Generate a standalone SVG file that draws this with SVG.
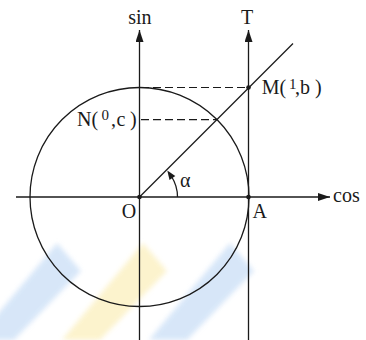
<svg xmlns="http://www.w3.org/2000/svg" width="366" height="340" viewBox="0 0 366 340">
<style>
.ln{stroke:#1a1a1a;stroke-width:1.3;fill:none}
.ds{stroke:#1a1a1a;stroke-width:1.2;stroke-dasharray:8 4;fill:none}
.t{font-family:"Liberation Serif","Times New Roman",serif;font-size:20px;fill:#1a1a1a}
.s{font-family:"Liberation Serif","Times New Roman",serif;font-size:15px;fill:#1a1a1a}
.dot{fill:#1a1a1a}
.wb{fill:#d3e4f8}
.wy{fill:#fcf2c8}
</style>
<defs>
<marker id="ah" viewBox="0 0 12 8" refX="12" refY="4" markerWidth="12" markerHeight="8" markerUnits="userSpaceOnUse" orient="auto">
<path d="M0,0 L12,4 L0,8 Z" fill="#1a1a1a"/>
</marker>
<filter id="soft" x="-20%" y="-20%" width="140%" height="140%"><feGaussianBlur stdDeviation="2.5"/></filter>
</defs>
<rect width="366" height="340" fill="#ffffff"/>
<g id="watermark" filter="url(#soft)" opacity="0.9">
<polygon class="wb" points="57,243 81,271 14,340 -24,340"/>
<polygon class="wy" points="143,243 167,271 100,340 62,340"/>
<polygon class="wb" points="230,243 254,271 187,340 149,340"/>
</g>
<g id="circle"><circle class="ln" cx="139.5" cy="197" r="109.5"/></g>
<g id="connectors">
<line class="ln" x1="16" y1="197" x2="330" y2="197" marker-end="url(#ah)"/>
<line class="ln" x1="139.5" y1="340" x2="139.5" y2="30" marker-end="url(#ah)"/>
<line class="ln" x1="248.5" y1="340" x2="248.5" y2="30" marker-end="url(#ah)"/>
<line class="ln" x1="139.5" y1="197" x2="293" y2="43.5"/>
<line class="ds" x1="141" y1="87.5" x2="248.5" y2="87.5"/>
<line class="ds" x1="141" y1="119.6" x2="217" y2="119.6"/>
<path class="ln" d="M177.5,197 A38,38 0 0 0 171.5,176.5"/>
<polygon class="dot" points="167.3,170.6 175.3,176 169.5,180"/>
</g>
<g id="O"><circle class="dot" cx="139.5" cy="197" r="2.3"/><text class="t" x="121.7" y="218">O</text></g>
<g id="A"><circle class="dot" cx="248.5" cy="197" r="2.3"/><text class="t" x="252.5" y="218">A</text></g>
<g id="M"><circle class="dot" cx="248.5" cy="87.5" r="2.3"/>
<text class="t" x="261.7" y="94">M(</text><text class="s" x="289" y="88.5">1</text><text class="t" x="295" y="94">,</text><text class="t" x="300" y="94">b</text><text class="t" x="315" y="94">)</text></g>
<g id="N"><text class="t" x="77" y="126">N(</text><text class="s" x="101.5" y="120">0</text><text class="t" x="111" y="126">,</text><text class="t" x="116.5" y="126">c</text><text class="t" x="130" y="126">)</text></g>
<g id="labels">
<text class="t" x="139.8" y="24" text-anchor="middle">sin</text>
<text class="t" x="247" y="24" text-anchor="middle">T</text>
<text class="t" x="333" y="202">cos</text>
<text class="t" x="180" y="187">α</text>
</g>
</svg>
